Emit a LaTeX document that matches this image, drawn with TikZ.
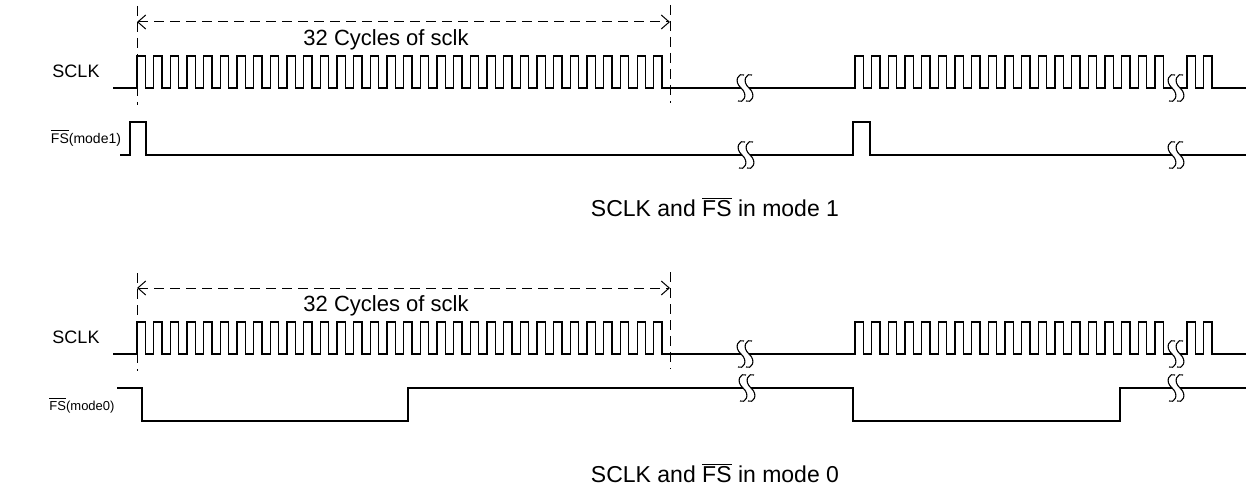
\documentclass[tikz,border=0pt]{standalone}
\usepackage{fontspec}
\setmainfont{Liberation Sans}
\usetikzlibrary{arrows.meta}

\newcommand{\fsbar}{$\overline{\mbox{FS}}$}

\begin{document}
\begin{tikzpicture}[
    x=0.5pt, y=-0.5pt,
    wave/.style={line width=0.6pt, line join=miter},
    guide/.style={line width=0.5pt, dash pattern=on 5pt off 3pt},
    span/.style={guide, {Straight Barb[length=4pt,width=7pt]}-{Straight Barb[length=4pt,width=7pt]}},
    siglabel/.style={font=\fontsize{9}{10}\selectfont, inner sep=0pt},
    fslabel/.style={font=\fontsize{7}{8}\selectfont, inner sep=0pt},
    caption/.style={font=\fontsize{11.5}{13}\selectfont, inner sep=0pt},
    gapmark/.pic={
        \fill[white] (-4,-2) rectangle (4,2);
        \draw[line width=0.55pt] (-1,-13) .. controls (-6,-16) and (-12,-7) .. (-4,0)
            .. controls (4,7) and (-2,16) .. (-7,13);
        \draw[line width=0.55pt] (7,-13) .. controls (2,-16) and (-4,-7) .. (4,0)
            .. controls (12,7) and (6,16) .. (1,13);
    }
]
    \useasboundingbox (0,0) rectangle (1246,486);

    % mode 1
    \node[siglabel] (clk1) at (76,71) {SCLK};
    \node[fslabel] (fs1) at (86,138) {\fsbar(mode1)};
    \draw[wave] (113,88) -- (137,88)
        \foreach \i in {1,...,32} { -- ++(0,-32) -- ++(8.3,0) -- ++(0,32) -- ++(8.37,0) }
        -- (855,88)
        \foreach \i in {1,...,19} { -- ++(0,-32) -- ++(8.3,0) -- ++(0,32) -- ++(8.37,0) }
        -- (1187,88)
        \foreach \i in {1,...,2} { -- ++(0,-32) -- ++(8.3,0) -- ++(0,32) -- ++(8.37,0) }
        -- (1246,88);
    \draw[wave] (120,155) -- (130,155) -- (130,122) -- (146,122) -- (146,155)
        -- (853,155) -- (853,122) -- (870,122) -- (870,155) -- (1246,155);
    \pic at (745,88) {gapmark};
    \pic at (1176,88) {gapmark};
    \pic at (746,155) {gapmark};
    \pic at (1176,155) {gapmark};
    \coordinate (top1a) at (137,6);
    \coordinate (bot1a) at (137,105);
    \coordinate (top1b) at (670,5);
    \coordinate (bot1b) at (670,103);
    \coordinate (arr1a) at (137,22);
    \coordinate (arr1b) at (670,22);
    \draw[guide] (top1a) -- (bot1a);
    \draw[guide] (top1b) -- (bot1b);
    \draw[span] (arr1a) -- (arr1b);
    \node[caption, font=\fontsize{11}{13}\selectfont] (cyc1) at (386,40) {32 Cycles of sclk};
    \node[caption] (cap1) at (715,207) {SCLK and \fsbar{} in mode 1};

    % mode 0
    \node[siglabel] (clk0) at (76,337) {SCLK};
    \node[fslabel, font=\fontsize{6.5}{8}\selectfont] (fs0) at (82,405) {\fsbar(mode0)};
    \draw[wave] (113,354) -- (137,354)
        \foreach \i in {1,...,32} { -- ++(0,-32) -- ++(8.3,0) -- ++(0,32) -- ++(8.37,0) }
        -- (855,354)
        \foreach \i in {1,...,19} { -- ++(0,-32) -- ++(8.3,0) -- ++(0,32) -- ++(8.37,0) }
        -- (1187,354)
        \foreach \i in {1,...,2} { -- ++(0,-32) -- ++(8.3,0) -- ++(0,32) -- ++(8.37,0) }
        -- (1246,354);
    \draw[wave] (117,388) -- (142,388) -- (142,421) -- (408,421) -- (408,388)
        -- (853,388) -- (853,421) -- (1120,421) -- (1120,388) -- (1246,388);
    \pic at (745,354) {gapmark};
    \pic at (1176,354) {gapmark};
    \pic at (747,388) {gapmark};
    \pic at (1176,388) {gapmark};
    \coordinate (top0a) at (137,273);
    \coordinate (bot0a) at (137,371);
    \coordinate (top0b) at (670,272);
    \coordinate (bot0b) at (670,369);
    \coordinate (arr0a) at (137,288);
    \coordinate (arr0b) at (670,288);
    \draw[guide] (top0a) -- (bot0a);
    \draw[guide] (top0b) -- (bot0b);
    \draw[span] (arr0a) -- (arr0b);
    \node[caption, font=\fontsize{11}{13}\selectfont] (cyc0) at (386,306) {32 Cycles of sclk};
    \node[caption] (cap0) at (715,473) {SCLK and \fsbar{} in mode 0};
\end{tikzpicture}
\end{document}
